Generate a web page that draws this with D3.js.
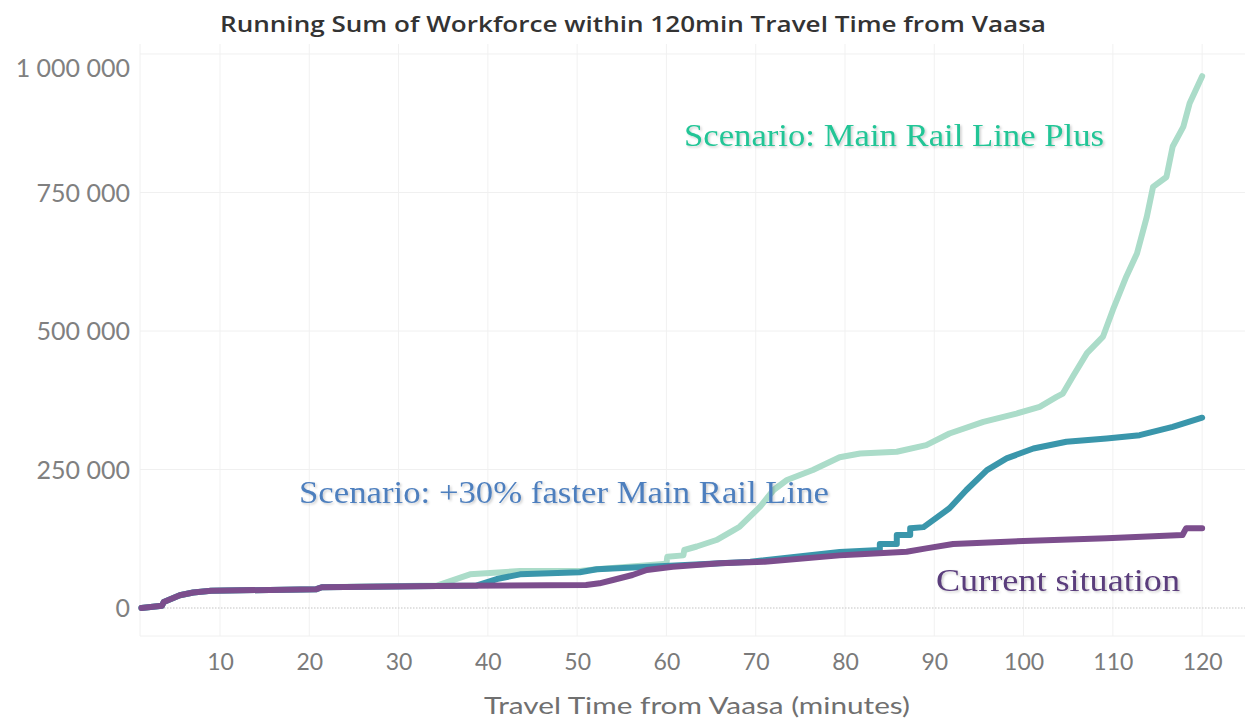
<!DOCTYPE html>
<html>
<head>
<meta charset="utf-8">
<script src="https://cdn.jsdelivr.net/npm/d3@7"></script>
<style>
  body { margin: 0; background: #fff; }
  svg { display: block; }
</style>
</head>
<body>
<svg id="chart"></svg>
<script>
// values (minutes, workforce)
const currentMin = [1.2, 3.5, 3.7, 5.5, 7, 9, 20.8, 21.4, 37, 51, 52.5, 54, 56.2, 57.8, 60.7, 66, 71, 79.4, 81.7, 86.9, 89.1, 92.1, 98.1, 109.3, 117.8, 118.2, 120];
const currentVal = [0, 4000, 11000, 23000, 28000, 31000, 34000, 37500, 40000, 41500, 44600, 50500, 59600, 68600, 74500, 80700, 83600, 95000, 97000, 101600, 107700, 115500, 119700, 125800, 131800, 143800, 143800];

const fasterMin = [1.2, 3.5, 3.7, 5.5, 7, 9, 20.8, 21.4, 37, 38.7, 41, 43.6, 50.3, 52.2, 60.4, 69.4, 79.4, 83.9, 83.9, 85.8, 85.8, 87.3, 87.3, 88.8, 91.7, 93.6, 95.9, 98.1, 101.1, 104.8, 109.3, 113, 116.7, 120];
const fasterVal = [0, 4000, 11000, 23000, 28000, 31000, 34000, 37500, 40000, 40500, 52300, 60800, 64400, 69900, 76400, 83600, 101000, 104700, 115500, 115500, 131800, 131800, 143800, 146000, 180000, 213000, 249000, 270000, 288000, 300000, 306000, 312000, 327000, 343500];

const plusMin = [1.2, 3.5, 3.7, 5.5, 7, 9, 20.8, 21.4, 34.3, 38, 43.6, 50.3, 52.2, 60, 60.1, 61.9, 62, 63.4, 65.6, 67.5, 68.2, 70.5, 72, 73.5, 76.4, 79.4, 81.7, 85.8, 89.1, 91.7, 95.5, 99.2, 101.8, 103.7, 104.4, 105.6, 107.1, 108.9, 110, 111.5, 112.7, 113.8, 114.5, 116, 116.7, 117.9, 118.6, 120];
const plusVal = [0, 4000, 11000, 23000, 28000, 31000, 34000, 37500, 40500, 60800, 66800, 67000, 70000, 80000, 92600, 95000, 104700, 111000, 122700, 140000, 146700, 183000, 213000, 231000, 249000, 272000, 279000, 282000, 294000, 315000, 336000, 351000, 363000, 381000, 387000, 420000, 460000, 490000, 538000, 598000, 640000, 706000, 760000, 778000, 833000, 869000, 911000, 960000];

const xTicks = [10, 20, 30, 40, 50, 60, 70, 80, 90, 100, 110, 120];
const yTicks = [0, 250000, 500000, 750000, 1000000];

const W = 1247, H = 721;
const margin = { top: 44, right: 2, bottom: 85, left: 140 };

const svg = d3.select('#chart').attr('width', W).attr('height', H);

const x = d3.scaleLinear().domain([1.04, 124.8]).range([margin.left, W - margin.right]);
const y = d3.scaleLinear().domain([-50540, 1018050]).range([H - margin.bottom, margin.top]);

// grid
svg.append('g')
  .selectAll('line')
  .data(xTicks)
  .join('line')
  .attr('x1', d => x(d)).attr('x2', d => x(d))
  .attr('y1', margin.top).attr('y2', H - margin.bottom)
  .attr('stroke', '#f1f1f1').attr('stroke-width', 1);

svg.append('g')
  .selectAll('line')
  .data(yTicks.filter(d => d > 0))
  .join('line')
  .attr('x1', margin.left).attr('x2', W - margin.right)
  .attr('y1', d => y(d)).attr('y2', d => y(d))
  .attr('stroke', '#f0f0f0').attr('stroke-width', 1);

// pane border left / bottom
svg.append('line')
  .attr('x1', margin.left).attr('x2', margin.left)
  .attr('y1', margin.top).attr('y2', H - margin.bottom)
  .attr('stroke', '#f0f0f0');
svg.append('line')
  .attr('x1', margin.left).attr('x2', W - margin.right)
  .attr('y1', H - margin.bottom).attr('y2', H - margin.bottom)
  .attr('stroke', '#f0f0f0');

// zero line
svg.append('line')
  .attr('x1', margin.left).attr('x2', W - margin.right)
  .attr('y1', y(0)).attr('y2', y(0))
  .attr('stroke', '#d8d8d8').attr('stroke-width', 1.5)
  .attr('stroke-dasharray', '1.5,1.5');

// axes
const yAxis = d3.axisLeft(y)
  .tickValues(yTicks)
  .tickSize(0)
  .tickPadding(10)
  .tickFormat(d => d3.format(',')(d).replace(/,/g, ' '));

const gy = svg.append('g')
  .attr('transform', `translate(${margin.left},0)`)
  .call(yAxis);
gy.select('.domain').remove();
gy.selectAll('text')
  .attr('font-family', 'Lato, "Open Sans", sans-serif')
  .attr('font-size', 25)
  .attr('fill', '#808080')
  .attr('dy', d => d === 1000000 ? '0.9em' : '0.35em');

const xAxis = d3.axisBottom(x)
  .tickValues(xTicks)
  .tickSize(0)
  .tickPadding(18);

const gx = svg.append('g')
  .attr('transform', `translate(0,${H - margin.bottom})`)
  .call(xAxis);
gx.select('.domain').remove();
gx.selectAll('text')
  .attr('font-family', 'Lato, "Open Sans", sans-serif')
  .attr('font-size', 23)
  .attr('fill', '#7a7a7a');

// lines
const series = [
  { min: plusMin, val: plusVal, color: '#abdcc9' },
  { min: fasterMin, val: fasterVal, color: '#3a96ab' },
  { min: currentMin, val: currentVal, color: '#7c4e8d' }
];

const line = d3.line()
  .x(d => x(d[0]))
  .y(d => y(d[1]))
  .curve(d3.curveLinear);

svg.append('g')
  .selectAll('path')
  .data(series)
  .join('path')
  .attr('d', s => line(s.min.map((m, i) => [m, s.val[i]])))
  .attr('fill', 'none')
  .attr('stroke', s => s.color)
  .attr('stroke-width', 6)
  .attr('stroke-linejoin', 'round')
  .attr('stroke-linecap', 'round');

// title
svg.append('text')
  .attr('x', 633).attr('y', 32)
  .attr('text-anchor', 'middle')
  .attr('font-family', '"Open Sans", Lato, sans-serif')
  .attr('font-weight', 600)
  .attr('font-size', 21)
  .attr('fill', '#333')
  .attr('textLength', 826)
  .attr('lengthAdjust', 'spacingAndGlyphs')
  .text('Running Sum of Workforce within 120min Travel Time from Vaasa');

// x axis title
svg.append('text')
  .attr('x', 697).attr('y', 714)
  .attr('text-anchor', 'middle')
  .attr('font-family', 'Lato, "Open Sans", sans-serif')
  .attr('font-size', 24)
  .attr('fill', '#707070')
  .attr('textLength', 426)
  .attr('lengthAdjust', 'spacingAndGlyphs')
  .text('Travel Time from Vaasa (minutes)');

// annotations
const defs = svg.append('defs');
defs.append('filter').attr('id', 'shadow')
  .append('feDropShadow')
  .attr('dx', 1.5).attr('dy', 1.5).attr('stdDeviation', 1)
  .attr('flood-color', '#000').attr('flood-opacity', 0.2);

const notes = [
  { text: 'Scenario: Main Rail Line Plus', x: 684, y: 146, len: 420, color: '#22c596' },
  { text: 'Scenario: +30% faster Main Rail Line', x: 299, y: 503, len: 530, color: '#4e7fbe' },
  { text: 'Current situation', x: 936, y: 591, len: 244, color: '#5a3d7c' }
];

svg.append('g')
  .selectAll('text')
  .data(notes)
  .join('text')
  .attr('x', d => d.x).attr('y', d => d.y)
  .attr('font-family', '"Liberation Serif", "DejaVu Serif", serif')
  .attr('font-size', 31)
  .attr('fill', d => d.color)
  .attr('textLength', d => d.len)
  .attr('lengthAdjust', 'spacingAndGlyphs')
  .attr('filter', 'url(#shadow)')
  .text(d => d.text);
</script>
</body>
</html>
